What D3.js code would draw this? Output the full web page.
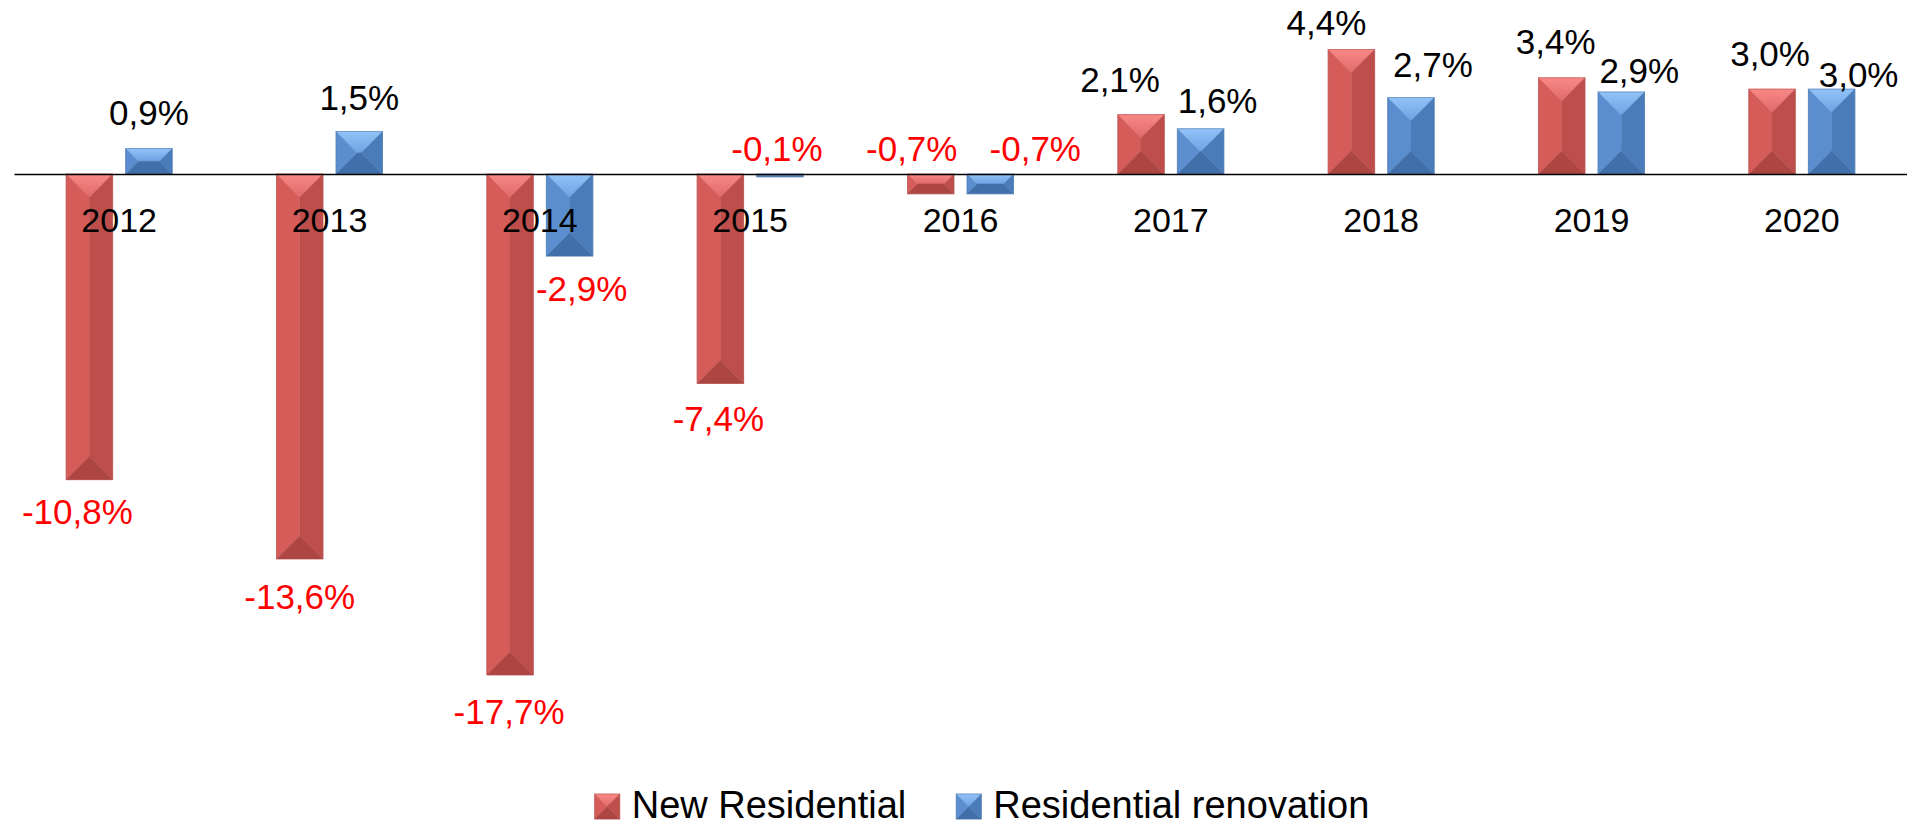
<!DOCTYPE html>
<html>
<head>
<meta charset="utf-8">
<script src="https://cdn.jsdelivr.net/npm/d3@7"></script>
<style>
  body { margin: 0; background: #fff; }
  svg { display: block; font-family: "Liberation Sans", Arial, sans-serif; }
</style>
</head>
<body>
<svg id="chart"></svg>
<script>
// data
var years = ["2012", "2013", "2014", "2015", "2016", "2017", "2018", "2019", "2020"];
var newResidential = [-10.8, -13.6, -17.7, -7.4, -0.7, 2.1, 4.4, 3.4, 3.0];
var renovation = [0.9, 1.5, -2.9, -0.1, -0.7, 1.6, 2.7, 2.9, 3.0];
var seriesNames = ["New Residential", "Residential renovation"];

var width = 1907;
var height = 826;

// bevel colours for each series
var palettes = {
    red: { topA: "#f88986", topB: "#e0696a", left: "#d55c59", right: "#bd4e4b", bottom: "#ad4542", stroke: "#b34a47" },
    blue: { topA: "#92c3f8", topB: "#6ea3e2", left: "#5b8ecf", right: "#4b7cba", bottom: "#416fa9", stroke: "#4571aa" }
};

var series = [
    { key: "new", name: seriesNames[0], values: newResidential, pal: "red" },
    { key: "reno", name: seriesNames[1], values: renovation, pal: "blue" }
];

// hand placed labels in the original chart: [dx, dy] from default spot
var labelNudge = {
    "new": [[-12, -3], [0, 3], [-1, 2], [-2, 1], [-19, -80], [-21, -1], [-25, 8], [-6, -2], [-2, -1]],
    "reno": [[0, -2], [0, 0], [12, -2], [-3, -63], [45, -80], [17, 6], [22, 1], [18, 13], [27, 20]]
};

var fmt = d3.formatLocale({ decimal: ",", thousands: ".", grouping: [3], currency: ["", ""], minus: "-" }).format(".1f");

var svg = d3.select("#chart")
    .attr("width", width)
    .attr("height", height);

var defs = svg.append("defs");
Object.keys(palettes).forEach(function (k) {
    var g = defs.append("linearGradient")
        .attr("id", "top-" + k)
        .attr("x1", 0).attr("y1", 0).attr("x2", 0).attr("y2", 1);
    g.append("stop").attr("offset", "0%").attr("stop-color", palettes[k].topA);
    g.append("stop").attr("offset", "100%").attr("stop-color", palettes[k].topB);
});

var x0 = d3.scaleBand()
    .domain(years)
    .range([14, width]);

var x1 = d3.scaleBand()
    .domain(series.map(d => d.key))
    .range([-53, 53])
    .paddingInner(0.22);

var y = d3.scaleLinear()
    .domain([-20, 5])
    .range([174 + 20 * 28.3, 174 - 5 * 28.3]);

function bevel(sel, x, yTop, w, h, palKey) {
    var pal = palettes[palKey];
    var d = Math.min(w, h) / 2;
    var xa = x, xb = x + w, ya = yTop, yb = yTop + h;
    var faces = [
        { pts: [[xa, ya], [xb, ya], [xb - d, ya + d], [xa + d, ya + d]], fill: "url(#top-" + palKey + ")" },
        { pts: [[xa, ya], [xa + d, ya + d], [xa + d, yb - d], [xa, yb]], fill: pal.left },
        { pts: [[xb, ya], [xb - d, ya + d], [xb - d, yb - d], [xb, yb]], fill: pal.right },
        { pts: [[xa, yb], [xb, yb], [xb - d, yb - d], [xa + d, yb - d]], fill: pal.bottom }
    ];
    sel.selectAll(null)
        .data(faces)
        .enter()
        .append("polygon")
        .attr("points", f => f.pts.map(p => p.join(",")).join(" "))
        .attr("fill", f => f.fill)
        .attr("stroke", f => f.fill)
        .attr("stroke-width", 0.4);
    sel.append("rect")
        .attr("x", xa).attr("y", ya)
        .attr("width", w).attr("height", h)
        .attr("fill", "none")
        .attr("stroke", pal.stroke)
        .attr("stroke-opacity", 0.6)
        .attr("stroke-width", 1);
}

// bars
var groups = svg.append("g")
    .selectAll("g")
    .data(years)
    .enter()
    .append("g")
    .attr("transform", d => "translate(" + (x0(d) + x0.bandwidth() / 2) + ",0)");

groups.each(function (year, i) {
    var g = d3.select(this);
    series.forEach(function (s) {
        var v = s.values[i];
        var top = y(Math.max(0, v));
        var h = Math.abs(y(v) - y(0));
        bevel(g.append("g"), x1(s.key), top, x1.bandwidth(), h, s.pal);
    });
});

// axis at zero with the years under it
var xAxis = d3.axisBottom(x0)
    .tickSize(0)
    .tickSizeOuter(0)
    .tickPadding(34);

var axisG = svg.append("g")
    .attr("transform", "translate(0," + y(0) + ")")
    .call(xAxis);
axisG.select(".domain")
    .attr("stroke", "#000")
    .attr("stroke-width", 1.6);
axisG.selectAll("text")
    .attr("font-family", "\"Liberation Sans\", Arial, sans-serif")
    .attr("font-size", 34)
    .attr("fill", "#000");

// data labels
groups.each(function (year, i) {
    var g = d3.select(this);
    series.forEach(function (s) {
        var v = s.values[i];
        var nudge = labelNudge[s.key][i];
        var base = v >= 0 ? y(v) - 22 : y(v) + 47;
        g.append("text")
            .attr("x", x1(s.key) + x1.bandwidth() / 2 + nudge[0])
            .attr("y", base + nudge[1])
            .attr("text-anchor", "middle")
            .attr("font-size", 35)
            .attr("fill", v < 0 ? "#ff0000" : "#000")
            .text(fmt(v) + "%");
    });
});

// legend
var legend = svg.append("g");
var items = legend.selectAll("g")
    .data(series)
    .enter()
    .append("g");
items.each(function (s) {
    var g = d3.select(this);
    bevel(g.append("g"), 0, -24, 25, 25, s.pal);
    g.append("text")
        .attr("x", 37)
        .attr("y", 0)
        .attr("font-size", 38)
        .attr("fill", "#000")
        .text(s.name);
});
var offset = 0;
var widths = [];
items.each(function () {
    widths.push(this.getBBox().width);
});
var total = d3.sum(widths) + 50 * (widths.length - 1);
var startX = 982 - total / 2;
items.attr("transform", function (d, i) {
    var tx = startX + offset;
    offset += widths[i] + 50;
    return "translate(" + tx + ",818)";
});
</script>
</body>
</html>
